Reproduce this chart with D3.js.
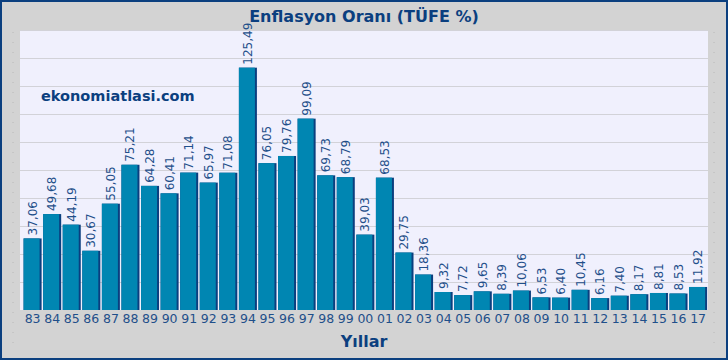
<!DOCTYPE html>
<html><head><meta charset="utf-8">
<script src="https://cdn.jsdelivr.net/npm/d3@7"></script>
<style>body{margin:0;background:#fff}svg{display:block}</style>
</head><body><svg id="c" width="728" height="360"></svg>
<script>
const years = ["83","84","85","86","87","88","89","90","91","92","93","94","95","96","97","98","99","00","01","02","03","04","05","06","07","08","09","10","11","12","13","14","15","16","17"];
const values = [37.06,49.68,44.19,30.67,55.05,75.21,64.28,60.41,71.14,65.97,71.08,125.49,76.05,79.76,99.09,69.73,68.79,39.03,68.53,29.75,18.36,9.32,7.72,9.65,8.39,10.06,6.53,6.40,10.45,6.16,7.40,8.17,8.81,8.53,11.92];
const gridTicks = [14.5,29,43.5,58,72.5,87,101.5,116,130.5,145];
const title = "Enflasyon Oranı (TÜFE %)";
const xTitle = "Yıllar";
const watermark = "ekonomiatlasi.com";

const svg = d3.select("#c");
const W = 728, H = 360;
const font = "Verdana, 'DejaVu Sans', sans-serif";
const dark = "#0b3f7f";

svg.append("rect").attr("x",1).attr("y",1).attr("width",W-2).attr("height",H-2)
  .attr("fill","#d3d3d3").attr("stroke","#0b3f7f").attr("stroke-width",2);

const pl = 20, pr = 708, pt = 30, pb = 310;
[13, 714].forEach(x => svg.append("line").attr("x1",x).attr("x2",x).attr("y1",32).attr("y2",345)
  .attr("stroke","#b8b8b8").attr("stroke-dasharray","1,9"));

svg.append("rect").attr("x",pl).attr("y",pt).attr("width",pr-pl).attr("height",pb-pt).attr("fill","#f0f0fd");

const x = d3.scaleBand().domain(years).range([23.2, 707.5]).paddingInner(0.08).paddingOuter(0.02);
const y = d3.scaleLinear().domain([0,145]).range([pb, pt]);

svg.append("g").selectAll("line").data(gridTicks).join("line")
  .attr("x1",pl).attr("x2",pr).attr("y1",d=>Math.round(y(d))+0.5).attr("y2",d=>Math.round(y(d))+0.5)
  .attr("stroke","#d2d2d8").attr("stroke-width",1);

svg.append("text").attr("x",41).attr("y",101).text(watermark)
  .attr("font-family",font).attr("font-weight","bold").attr("font-size",14.5).attr("fill","#0b3f7f");

const g = svg.append("g");
const bw = x.bandwidth();
g.selectAll("rect.b").data(values).join("rect").attr("class","b")
  .attr("x",(d,i)=>x(years[i])).attr("y",d=>y(d)).attr("width",bw).attr("height",d=>pb-y(d))
  .attr("fill","#0a3f7f");
g.selectAll("rect.f").data(values).join("rect").attr("class","f")
  .attr("x",(d,i)=>x(years[i])).attr("y",d=>y(d)).attr("width",bw-2).attr("height",d=>pb-y(d))
  .attr("fill","#0086b2");

g.selectAll("text.v").data(values).join("text").attr("class","v")
  .attr("transform",(d,i)=>`translate(${x(years[i])+bw/2+4},${y(d)-3}) rotate(-90)`)
  .text(d=>d.toFixed(2).replace(".",","))
  .attr("font-family",font).attr("font-size",12).attr("fill","#1f4f8a");

const xa = svg.append("g").attr("transform",`translate(0,${pb})`)
  .call(d3.axisBottom(x).tickSize(0).tickPadding(4));
xa.select(".domain").remove();
xa.selectAll("text").attr("font-family",font).attr("font-size",12.5).attr("fill","#1f4f8a");

svg.append("text").attr("x",(pl+pr)/2).attr("y",347).attr("text-anchor","middle").text(xTitle)
  .attr("font-family",font).attr("font-weight","bold").attr("font-size",16).attr("fill",dark);

svg.append("text").attr("x",364).attr("y",22).attr("text-anchor","middle").text(title)
  .attr("font-family",font).attr("font-weight","bold").attr("font-size",16).attr("fill",dark);
</script></body></html>
